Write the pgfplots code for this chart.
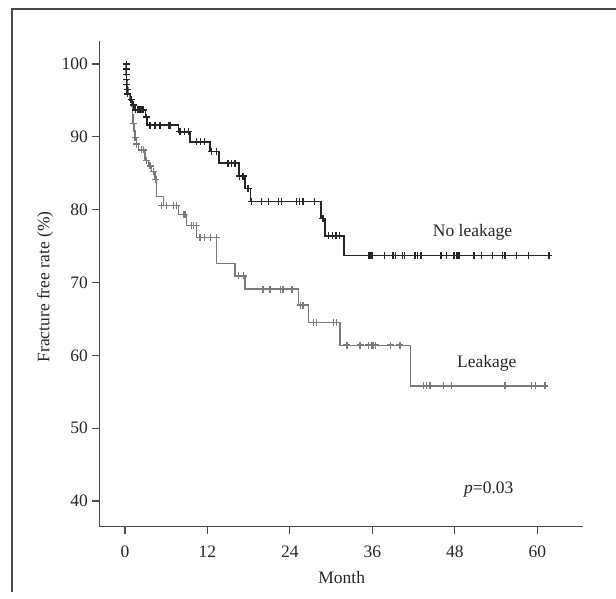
\documentclass[border=0pt]{standalone}
\usepackage{fontspec}
\setmainfont{Liberation Serif}
\usepackage{pgfplots}
\pgfplotsset{compat=1.18}
\definecolor{kmdark}{HTML}{262626}
\definecolor{kmgray}{HTML}{7A7A7A}
\definecolor{axgray}{HTML}{4A4A4A}
\newcommand{\fs}{\fontsize{17.5}{21}\selectfont}

\begin{document}
\begin{tikzpicture}[x=1pt,y=1pt]
\path[use as bounding box] (0,0) rectangle (616,598);
\draw[line width=1.1pt, axgray] (12,6) -- (12,589) -- (616,589);
\begin{axis}[
    at={(99.3pt,71.3pt)}, anchor=south west,
    scale only axis,
    width=483.7pt, height=485.7pt,
    xmin=-3.74, xmax=66.65,
    ymin=36.47, ymax=103.16,
    axis x line*=bottom, axis y line*=left,
    axis line style={-, line width=1.1pt, axgray},
    xtick={0,12,24,36,48,60},
    ytick={40,50,60,70,80,90,100},
    tick align=outside,
    major tick length=7pt,
    tick style={line width=1.1pt, axgray},
    tick label style={font=\fs, text=kmdark},
    xticklabel style={yshift=-9pt},
    yticklabel style={xshift=-1pt},
    /pgf/number format/assume math mode=true,
    clip=false,
]
% No leakage: Kaplan-Meier steps
\addplot[const plot, kmdark, line width=1.6pt] coordinates {
(0,100) (0.10,99.3) (0.15,98.6) (0.20,97.9) (0.25,97.2) (0.30,96.5)
(0.40,95.8) (0.70,95.1) (1.00,94.4) (1.30,93.7) (3.00,92.7) (3.20,91.6)
(7.76,90.7) (9.46,89.3) (12.37,88.0) (13.72,86.4) (16.63,84.6)
(17.46,82.9) (18.29,81.1) (28.48,78.8) (29.10,76.4) (31.87,73.7)
(61.7,73.7)};
% No leakage: censored
\addplot[only marks, mark=+, mark size=3.5pt, kmdark, mark options={line width=1.4pt}] coordinates {
(0.25,100) (0.25,99.3) (0.25,98.6) (0.25,97.9) (0.25,97.2) (0.3,96.5)
(0.4,95.9) (0.9,95.1) (1.2,94.4) (1.5,93.7) (1.9,93.7) (2.1,93.7)
(2.3,93.7) (2.5,93.7) (2.7,93.7) (3.1,92.7)
(3.64,91.6) (4.37,91.6) (5.09,91.6) (6.30,91.6) (6.55,91.6)
(8.0,90.7) (8.7,90.7) (9.2,90.7)
(10.4,89.3) (11.0,89.3) (11.6,89.3)
(12.6,88.0) (13.3,88.0)
(15.0,86.4) (15.5,86.4) (16.0,86.4)
(16.7,84.6) (17.2,84.6) (17.9,82.9)
(18.4,81.1) (19.9,81.1) (20.9,81.1) (22.3,81.1) (22.8,81.1) (25.0,81.1)
(25.4,81.1) (25.9,81.1) (27.6,81.1)
(28.8,78.8)
(29.6,76.4) (30.2,76.4) (30.7,76.4) (31.2,76.4)
(35.4,73.7) (35.6,73.7) (35.8,73.7) (36.0,73.7) (37.8,73.7) (39.0,73.7)
(39.4,73.7) (40.4,73.7) (40.7,73.7) (42.2,73.7) (42.6,73.7) (43.1,73.7)
(46.0,73.7) (46.8,73.7) (47.9,73.7) (48.3,73.7) (48.6,73.7) (50.8,73.7)
(51.9,73.7) (53.5,73.7) (54.9,73.7) (55.3,73.7) (57.0,73.7) (58.7,73.7)
(61.7,73.7)};
% Leakage: Kaplan-Meier steps
\addplot[const plot, kmgray, line width=1.2pt] coordinates {
(0,100) (0.10,99.2) (0.15,98.4) (0.20,97.6) (0.30,96.8) (0.45,96.0)
(0.70,95.2) (0.97,94.2) (1.05,93.0) (1.15,91.8) (1.30,90.8) (1.46,89.9)
(1.70,89.0) (1.94,88.2) (2.91,86.8) (3.40,86.0) (3.89,85.2) (4.37,84.1)
(4.61,81.8) (5.57,80.6) (7.76,79.3) (8.98,77.8) (10.43,76.2)
(13.34,72.6) (16.00,70.9) (17.46,69.1) (25.20,66.9) (26.70,64.5)
(31.30,61.4) (41.60,55.8) (61.4,55.8)};
% Leakage: censored
\addplot[only marks, mark=+, mark size=3.5pt, kmgray, mark options={line width=1.3pt}] coordinates {
(1.21,91.8) (1.46,89.9) (1.70,89.0) (2.43,88.2) (2.66,88.2) (3.16,86.8)
(3.64,86.0) (4.1,85.2) (4.5,84.1)
(5.34,80.6) (6.07,80.6) (7.03,80.6) (7.52,80.6)
(8.48,79.3) (8.73,79.3)
(9.7,77.8) (10.0,77.8) (10.4,77.8)
(10.9,76.2) (11.6,76.2) (12.4,76.2) (13.3,76.2)
(16.5,70.9) (17.2,70.9)
(20.1,69.1) (21.1,69.1) (22.6,69.1) (23.0,69.1) (24.3,69.1)
(25.5,66.9) (25.9,66.9)
(27.4,64.5) (27.9,64.5) (30.3,64.5) (30.8,64.5)
(32.3,61.4) (34.2,61.4) (35.4,61.4) (35.9,61.4) (36.1,61.4) (36.5,61.4)
(38.6,61.4) (40.0,61.4)
(43.4,55.8) (43.9,55.8) (44.4,55.8) (46.3,55.8) (47.5,55.8) (55.3,55.8)
(59.2,55.8) (59.7,55.8) (61.1,55.8)};
\node[font=\fs, text=kmdark] at (axis cs:50.57,76.84) {No leakage};
\node[font=\fs, text=kmdark] at (axis cs:52.64,58.9) {Leakage};
\node[font=\fs, text=kmdark] at (axis cs:52.95,41.56) {\textit{p}=0.03};
\end{axis}
\node[font=\fs, text=kmdark] at (341.7,20) {Month};
\node[font=\fs, text=kmdark, rotate=90] at (45,311) {Fracture free rate (\%)};
\end{tikzpicture}
\end{document}
